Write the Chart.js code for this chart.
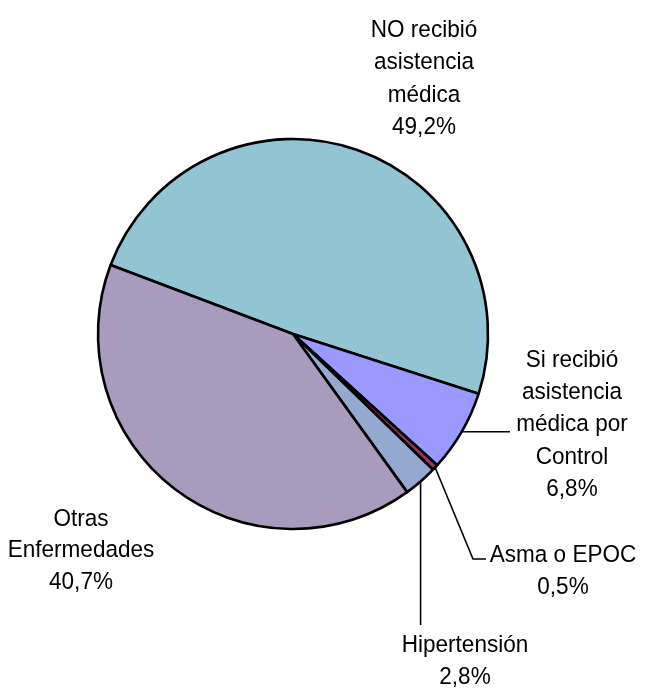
<!DOCTYPE html>
<html>
<head>
<meta charset="utf-8">
<script src="https://cdn.jsdelivr.net/npm/chart.js@4.4.1/dist/chart.umd.min.js"></script>
<style>
  html, body { margin: 0; padding: 0; background: #fff; }
  canvas { display: block; }
</style>
</head>
<body>
<canvas id="pieChart" width="651" height="697"></canvas>
<script>
const categories = ['NO recibió asistencia médica', 'Si recibió asistencia médica por Control', 'Asma o EPOC', 'Hipertensión', 'Otras Enfermedades'];
const values = [49.2, 6.8, 0.5, 2.8, 40.7];
const sliceColors = ['#93C4D4', '#9999FF', '#993366', '#95A9D0', '#A99BBD'];
const labelText = [
  ['NO recibió', 'asistencia', 'médica'],
  ['Si recibió', 'asistencia', 'médica por', 'Control'],
  ['Asma o EPOC'],
  ['Hipertensión'],
  ['Otras', 'Enfermedades']
];

// where each label sits, and how its leader line runs from the slice edge
const labelLayout = [
  { x: 424, y: 29, step: 32.5 },
  { x: 572, y: 359, step: 32.3, leader: (ax, ay) => [[510, ay]] },
  { x: 563, y: 554, step: 32, leader: (ax, ay) => [[473, 559], [486, 559]] },
  { x: 465, y: 644, step: 32, leader: (ax, ay) => [[ax, 625]] },
  { x: 81, y: 518, step: 31.5 }
];

const textScaleX = 0.92;

function pct(v) {
  return v.toFixed(1).replace('.', ',') + '%';
}

const sliceLabels = {
  id: 'sliceLabels',
  afterDatasetsDraw(chart) {
    const ctx = chart.ctx;
    const arcs = chart.getDatasetMeta(0).data;
    ctx.save();
    ctx.font = '24.5px "Liberation Sans", Arial, sans-serif';
    ctx.fillStyle = '#000';
    ctx.strokeStyle = '#000';
    ctx.lineWidth = 1.6;
    ctx.textAlign = 'center';
    ctx.textBaseline = 'middle';
    arcs.forEach((arc, i) => {
      const L = labelLayout[i];
      const p = arc.getProps(['x', 'y', 'startAngle', 'endAngle', 'outerRadius'], true);
      const mid = (p.startAngle + p.endAngle) / 2;
      const ax = p.x + Math.cos(mid) * p.outerRadius;
      const ay = p.y + Math.sin(mid) * p.outerRadius;
      if (L.leader) {
        ctx.beginPath();
        ctx.moveTo(ax, ay);
        L.leader(ax, ay).forEach(pt => ctx.lineTo(pt[0], pt[1]));
        ctx.stroke();
      }
      const lines = labelText[i].concat([pct(values[i])]);
      lines.forEach((t, k) => {
        ctx.save();
        ctx.translate(L.x, L.y + k * L.step + 1);
        ctx.scale(textScaleX, 1);
        ctx.fillText(t, 0, 0);
        ctx.restore();
      });
    });
    ctx.restore();
  }
};

new Chart(document.getElementById('pieChart'), {
  type: 'pie',
  data: {
    labels: categories,
    datasets: [{
      data: values,
      backgroundColor: sliceColors,
      borderColor: '#000',
      borderWidth: 2.6,
      radius: 195
    }]
  },
  options: {
    responsive: false,
    animation: false,
    rotation: 290.7,
    layout: { padding: { left: 0, right: 65, top: 0, bottom: 29 } },
    plugins: {
      legend: { display: false },
      tooltip: { enabled: false }
    }
  },
  plugins: [sliceLabels]
});
</script>
</body>
</html>
